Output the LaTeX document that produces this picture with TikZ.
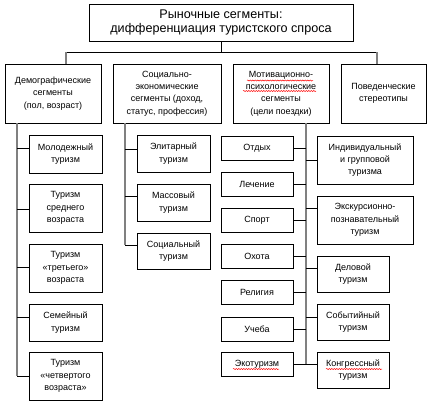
\documentclass[tikz,border=0pt]{standalone}
\usepackage{fontspec}
\setmainfont{Liberation Sans}
\usetikzlibrary{calc,decorations.pathmorphing}

\tikzset{
    box/.style={draw, line width=0.8pt, align=center, inner sep=1pt,
        font=\fontsize{9}{12.3}\selectfont},
    spine/.style={draw=gray, line width=1.3pt},
    hline/.style={draw, line width=0.8pt},
    wavy/.style={draw=red, line width=0.5pt, decorate,
        decoration={snake, amplitude=0.6pt, segment length=2.5pt}},
}

\begin{document}
\begin{tikzpicture}[x=1pt, y=-1pt]
        \useasboundingbox (0,0) rectangle (433,408);

        % Titolo
        \node[box, minimum width=264pt, minimum height=37pt,
            font=\fontsize{12.6}{14}\selectfont] (top) at (221,22.5)
            {Рыночные сегменты:\\дифференциация туристского спроса};

        % Segmenti principali
        \node[box, minimum width=96pt, minimum height=59pt] (dem) at (53,93.5)
            {Демографические\\сегменты\\(пол, возраст)};
        \node[box, minimum width=108pt, minimum height=59pt] (soc) at (167,93.5)
            {Социально-\\экономические\\сегменты (доход,\\статус, профессия)};
        \node[box, minimum width=96pt, minimum height=59pt] (mot) at (281,93.5)
            {Мотивационно-\\психологические\\сегменты\\(цели поездки)};
        \node[box, minimum width=85pt, minimum height=59pt] (pov) at (383.5,93.5)
            {Поведенческие\\стереотипы};

        % Collegamenti dal titolo
        \coordinate (jl) at (66,52);
        \coordinate (jr) at (377,52);
        \draw[hline] (top.south) -- (top.south |- jl);
        \draw[hline] (jl) -- (jr);
        \draw[spine] (jl) -- (jl |- dem.north);
        \draw[spine] (jr) -- (jr |- pov.north);

        % Colonna demografica
        \node[box, minimum width=73pt, minimum height=38pt] (m1) at (65.5,154)
            {Молодежный\\туризм};
        \node[box, minimum width=73pt, minimum height=48pt] (m2) at (65.5,208)
            {Туризм\\среднего\\возраста};
        \node[box, minimum width=73pt, minimum height=48pt] (m3) at (65.5,268)
            {Туризм\\«третьего»\\возраста};
        \node[box, minimum width=73pt, minimum height=37pt] (m4) at (65.5,322.5)
            {Семейный\\туризм};
        \node[box, minimum width=73pt, minimum height=48pt] (m5) at (65.5,376)
            {Туризм\\«четвертого\\возраста»};

        \draw[spine] (17,0 |- dem.south) -- (17,376);
        \foreach \n/\y in {m1/148, m2/209, m3/267, m4/317, m5/376}
            \draw[hline] (17,\y) -- (\n.west |- 0,\y);

        % Colonna socio-economica
        \node[box, minimum width=73pt, minimum height=37pt] (s1) at (173.5,153.5)
            {Элитарный\\туризм};
        \node[box, minimum width=73pt, minimum height=37pt] (s2) at (173.5,202.5)
            {Массовый\\туризм};
        \node[box, minimum width=73pt, minimum height=36pt] (s3) at (173.5,251)
            {Социальный\\туризм};

        \draw[spine] (125,0 |- soc.south) -- (125,245);
        \foreach \n/\y in {s1/149, s2/196, s3/245}
            \draw[hline] (125,\y) -- (\n.west |- 0,\y);

        % Colonna motivazionale: sinistra
        \node[box, minimum width=72pt, minimum height=24pt] (p1) at (257,148) {Отдых};
        \node[box, minimum width=72pt, minimum height=24pt] (p2) at (257,184) {Лечение};
        \node[box, minimum width=72pt, minimum height=24pt] (p3) at (257,220) {Спорт};
        \node[box, minimum width=72pt, minimum height=24pt] (p4) at (257,256) {Охота};
        \node[box, minimum width=72pt, minimum height=24pt] (p5) at (257,292.5) {Религия};
        \node[box, minimum width=72pt, minimum height=24pt] (p6) at (257,329) {Учеба};
        \node[box, minimum width=72pt, minimum height=24pt] (p7) at (257,364) {Экотуризм};

        % Colonna motivazionale: destra
        \node[box, minimum width=96pt, minimum height=48pt] (t1) at (365,160)
            {Индивидуальный\\и групповой\\туризма};
        \node[box, minimum width=96pt, minimum height=48pt] (t2) at (365,220)
            {Экскурсионно-\\познавательный\\туризм};
        \node[box, minimum width=72pt, minimum height=36pt] (t3) at (353,274)
            {Деловой\\туризм};
        \node[box, minimum width=72pt, minimum height=36pt] (t4) at (353,322)
            {Событийный\\туризм};
        \node[box, minimum width=72pt, minimum height=36pt] (t5) at (353,370)
            {Конгрессный\\туризм};

        \draw[spine] (306,0 |- mot.south) -- (306,364);
        \foreach \n/\y in {p1/148, p2/184, p3/220, p4/256, p5/292, p6/329, p7/364}
            \draw[hline] (\n.east |- 0,\y) -- (306,\y);
        \foreach \n/\y in {t1/160, t2/208, t3/268, t4/317, t5/364}
            \draw[hline] (306,\y) -- (\n.west |- 0,\y);

        % Sottolineature ondulate
        \draw[wavy] ($(mot.center)+(-34,-13)$) -- ($(mot.center)+(32,-13)$);
        \draw[wavy] ($(mot.center)+(-38,-2.5)$) -- ($(mot.center)+(35,-2.5)$);
        \draw[wavy] ($(p7.center)+(-24,5)$) -- ($(p7.center)+(22,5)$);
        \draw[wavy] ($(t5.center)+(-27,-1)$) -- ($(t5.center)+(29,-1)$);

    \end{tikzpicture}
\end{document}
